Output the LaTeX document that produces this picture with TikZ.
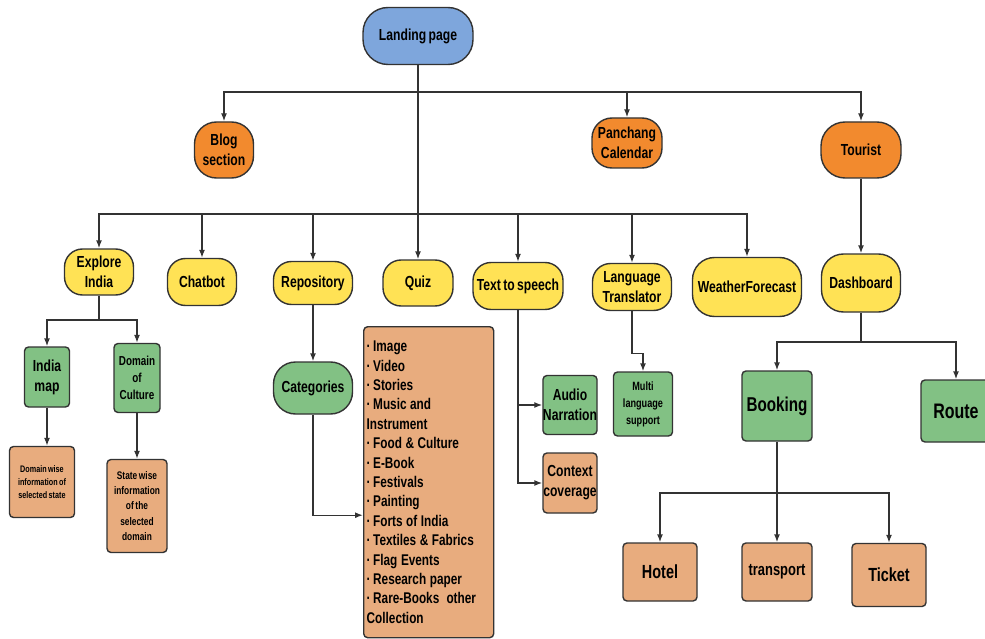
\documentclass[tikz,border=0pt]{standalone}
\usepackage{fontspec}
\setmainfont[FakeStretch=0.76,WordSpace=0.7]{Liberation Sans}
\usepackage{tikz}
\usetikzlibrary{arrows.meta}
\definecolor{landblue}{HTML}{7EA6DC}
\definecolor{tourorange}{HTML}{F28A2E}
\definecolor{featyellow}{HTML}{FFE255}
\definecolor{subgreen}{HTML}{82C184}
\definecolor{leaftan}{HTML}{E8AC7E}
\definecolor{linegray}{HTML}{333333}
\newcommand{\fsz}[2]{\fontsize{#1}{#2}\selectfont\bfseries}
\newcommand{\itm}{\textperiodcentered\,}
\newcommand{\tightsp}{\spaceskip=3.6pt plus 1pt minus 1pt\relax}

\begin{document}
\begin{tikzpicture}[x=1pt,y=-1pt,line width=1.4pt,draw=linegray,>={Latex[length=8pt,width=6pt]},
    box/.style={draw=linegray,line width=1.4pt,align=center,inner sep=0pt,font=\fsz{16}{20}},
    pill/.style={box,rounded corners=18pt},
    sqbox/.style={box,rounded corners=4pt}]
    \clip (0,0) rectangle (985,639);
    \fill[white] (0,0) rectangle (985,639);
    % top level
    \node[pill,fill=landblue,minimum width=110pt,minimum height=57pt,rounded corners=25pt] (landing) at (418,36) {Landing page};
    \node[pill,fill=tourorange,minimum width=59pt,minimum height=56pt,rounded corners=22pt] (blog) at (224,150) {Blog\\section};
    \node[pill,fill=tourorange,minimum width=70pt,minimum height=50pt,rounded corners=20pt] (panchang) at (627,143) {Panchang\\Calendar};
    \node[pill,fill=tourorange,minimum width=80pt,minimum height=56pt,rounded corners=24pt] (tourist) at (861,150) {Tourist};
    % features
    \node[pill,fill=featyellow,minimum width=69pt,minimum height=46pt] (explore) at (99,272) {Explore\\India};
    \node[pill,fill=featyellow,minimum width=69pt,minimum height=47pt] (chatbot) at (202,282) {Chatbot};
    \node[pill,fill=featyellow,minimum width=79pt,minimum height=43pt] (repository) at (313,283) {Repository};
    \node[pill,fill=featyellow,minimum width=70pt,minimum height=46pt] (quiz) at (418,283) {Quiz};
    \node[pill,fill=featyellow,minimum width=90pt,minimum height=47pt] (tts) at (518,286) {Text to speech};
    \node[pill,fill=featyellow,minimum width=79pt,minimum height=47pt] (langtr) at (632,287) {Language\\Translator};
    \node[pill,fill=featyellow,minimum width=109pt,minimum height=59pt,rounded corners=22pt] (weather) at (747,287) {WeatherForecast};
    \node[pill,fill=featyellow,minimum width=79pt,minimum height=58pt,rounded corners=22pt] (dashboard) at (861,283) {Dashboard};
    % explore india
    \node[sqbox,fill=subgreen,minimum width=45pt,minimum height=60pt] (indiamap) at (47,377) {India\\map};
    \node[sqbox,fill=subgreen,minimum width=46pt,minimum height=69pt,font=\fsz{13}{17}] (culture) at (137,378) {Domain\\of\\Culture};
    \node[sqbox,fill=leaftan,minimum width=65pt,minimum height=71pt,font=\fsz{9.5}{13}] (domainwise) at (42,482) {Domain wise\\information of\\selected state};
    \node[sqbox,fill=leaftan,minimum width=60pt,minimum height=93pt,font=\fsz{11}{15.3}] (statewise) at (137,506) {State wise\\information\\of the\\selected\\domain};
    % repository
    \node[pill,fill=subgreen,minimum width=79pt,minimum height=52pt,rounded corners=22pt] (categories) at (313,388) {Categories};
    \node[sqbox,fill=leaftan,anchor=north west,minimum width=130pt,minimum height=311pt,text width=124pt,align=left,font=\fsz{15.5}{19.4}] (itemlist) at (363,326)
        {\tightsp\itm Image\\\itm Video\\\itm Stories\\\itm Music and\\Instrument\\\itm Food \& Culture\\\itm E-Book\\\itm Festivals\\\itm Painting\\\itm Forts of India\\\itm Textiles \& Fabrics\\\itm Flag Events\\\itm Research paper\\\itm Rare-Books\ \ other\\Collection};
    % text to speech, translator
    \node[sqbox,fill=subgreen,minimum width=54pt,minimum height=59pt] (audio) at (570,405) {Audio\\Narration};
    \node[sqbox,fill=leaftan,minimum width=54pt,minimum height=60pt] (context) at (570,483) {Context\\coverage};
    \node[sqbox,fill=subgreen,minimum width=59pt,minimum height=64pt,font=\fsz{12}{17}] (multi) at (643,404) {Multi\\language\\support};
    % dashboard
    \node[sqbox,fill=subgreen,minimum width=70pt,minimum height=70pt,font=\fsz{20}{24}] (booking) at (777,406) {Booking};
    \node[sqbox,fill=subgreen,minimum width=70pt,minimum height=62pt,font=\fsz{21}{25}] (route) at (956,411) {Route};
    \node[sqbox,fill=leaftan,minimum width=74pt,minimum height=58pt,font=\fsz{19}{23}] (hotel) at (660,572) {Hotel};
    \node[sqbox,fill=leaftan,minimum width=70pt,minimum height=58pt,font=\fsz{17}{21}] (transport) at (777,572) {transport};
    \node[sqbox,fill=leaftan,minimum width=74pt,minimum height=63pt,font=\fsz{19}{23}] (ticket) at (889,575) {Ticket};

    % buses
    \coordinate (bus1) at (418,92);
    \coordinate (bus2) at (418,214);
    \coordinate (exbus) at (99,320);
    \coordinate (dbus) at (861,342);
    \coordinate (bbus) at (777,493);

    \draw (landing) -- (bus2);
    \draw[->] (bus1) -| (blog);
    \draw[->] (bus1) -| (panchang);
    \draw[->] (bus1) -| (tourist);
    \draw[->] (bus2) -| (explore);
    \draw[->] (bus2) -| (chatbot);
    \draw[->] (bus2) -| (repository);
    \draw[->] (bus2) -- (quiz);
    \draw[->] (bus2) -| (tts);
    \draw[->] (bus2) -| (langtr);
    \draw[->] (bus2) -| (weather);
    \draw[->] (tourist) -- (dashboard);

    \draw (explore) -- (exbus);
    \draw[->] (exbus) -| (indiamap);
    \draw[->] (exbus) -| (culture);
    \draw[->] (indiamap) -- (domainwise.north -| indiamap);
    \draw[->] (culture) -- (statewise);

    \draw[->] (repository) -- (categories);
    \draw[->] (categories.south) |- ([yshift=-33pt]itemlist.west);

    \draw[->] (tts.south) |- (audio.west);
    \draw[->] (tts.south) |- (context.west);
    \draw[->] (langtr.south) -- ++(0,42) -| (multi.north);

    \draw (dashboard) -- (dbus);
    \draw[->] (dbus) -| (booking);
    \draw[->] (dbus) -| (route);
    \draw (booking) -- (bbus);
    \draw[->] (bbus) -| (hotel);
    \draw[->] (bbus) -- (transport);
    \draw[->] (bbus) -| (ticket);
\end{tikzpicture}
\end{document}
